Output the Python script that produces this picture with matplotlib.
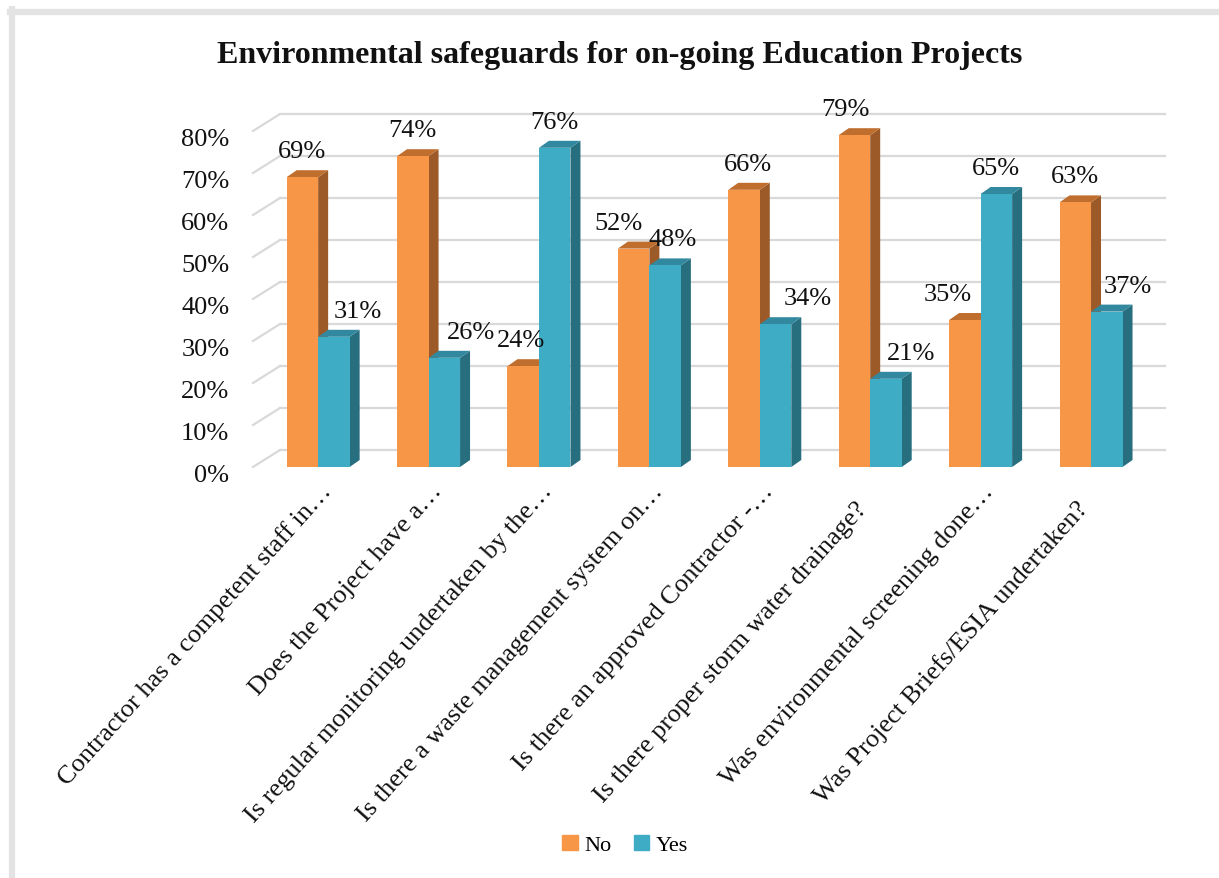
import matplotlib
matplotlib.use('Agg')
import matplotlib.pyplot as plt
import matplotlib.transforms as mtransforms
from matplotlib.patches import Polygon, Rectangle
from matplotlib.lines import Line2D
import numpy as np

# Dados do gráfico
categorias = [
    'Contractor has a competent staff in…',
    'Does the Project have a…',
    'Is regular monitoring undertaken by the…',
    'Is there a waste management system on…',
    'Is there an approved Contractor -…',
    'Is there proper storm water drainage?',
    'Was environmental screening done…',
    'Was Project Briefs/ESIA undertaken?',
]
valores_no = [69, 74, 24, 52, 66, 79, 35, 63]
valores_yes = [31, 26, 76, 48, 34, 21, 65, 37]
series = ['No', 'Yes']
ticks_y = [0, 10, 20, 30, 40, 50, 60, 70, 80]

# Ajustes de posição dos rótulos (pixels)
desloc_no = [0, 0, -2, -15, 4, -9, -17, 0]
desloc_yes = [24, 27, 0, 7, 32, 25, 0, 21]

# Cores (frente, lateral, topo)
cores = {
    'No': ('#F79646', '#9C5A28', '#BF6E2E'),
    'Yes': ('#3FACC6', '#276E7F', '#32899F'),
}

plt.rcParams['font.family'] = ['Liberation Serif', 'DejaVu Serif']

fig = plt.figure(figsize=(12.19, 8.79), dpi=100)
ax = fig.add_axes([253 / 1219, 1 - 468 / 879, 912 / 1219, 368 / 879])
ax.set_xlim(-0.59, 7.67)
ax.set_ylim(0, 368 / 4.2)

# profundidade 3D em unidades de dados
px_x = 912 / 8.26
px_y = 4.2
parede_dx, parede_dy = 27 / px_x, 17 / px_y
barra_dx, barra_dy = 10 / px_x, 7 / px_y
largura = 31.5 / px_x

# Grade: parede do fundo + diagonais do piso/lateral
cinza = '#D9D9D9'
for v in ticks_y:
    ax.plot([-0.59 + parede_dx, 7.67], [v + parede_dy] * 2, color=cinza,
            lw=1.6, zorder=0, clip_on=False)
    ax.plot([-0.59, -0.59 + parede_dx], [v, v + parede_dy], color=cinza,
            lw=1.6, zorder=0, clip_on=False)

x = list(range(len(categorias)))
z = 2
for i in x:
    for serie, vals, off, desl in [('No', valores_no, -largura / 2, desloc_no),
                                   ('Yes', valores_yes, largura / 2, desloc_yes)]:
        v = vals[i]
        xc = i + off
        xl, xr = xc - largura / 2, xc + largura / 2
        frente, lado, topo = cores[serie]
        ax.add_patch(Polygon([(xr, 0), (xr + barra_dx, barra_dy), (xr + barra_dx, v + barra_dy), (xr, v)],
                             closed=True, facecolor=lado, edgecolor='none', zorder=z))
        ax.add_patch(Polygon([(xl, v), (xl + barra_dx, v + barra_dy), (xr + barra_dx, v + barra_dy), (xr, v)],
                             closed=True, facecolor=topo, edgecolor='none', zorder=z))
        ax.bar(xc, v, width=largura, color=frente, zorder=z + 0.5)
        ax.annotate(f'{v}%', (xc, v), xytext=(desl[i] * 0.72, 15 * 0.72),
                    textcoords='offset points', ha='center', va='bottom',
                    fontsize=19, color='#111111', zorder=10, annotation_clip=False)
        z += 1

# Eixo Y
ax.set_yticks(ticks_y)
ax.set_yticklabels([f'{t}%' for t in ticks_y], fontsize=19, color='#111111')
ax.tick_params(axis='y', length=0, pad=17)
desloc = mtransforms.ScaledTranslation(0, -6 / 100, fig.dpi_scale_trans)
for lbl in ax.get_yticklabels():
    lbl.set_transform(lbl.get_transform() + desloc)
ax.set_xticks([])
for s in ax.spines.values():
    s.set_visible(False)
ax.patch.set_alpha(0)

# Rótulos das categorias (o "…" do Excel passa do ponto de ancoragem)
ang = 48
for i, cat in enumerate(categorias):
    recuo = 0 if cat.endswith('…') else 24
    ax.text(i + (14 - recuo * np.cos(np.radians(ang))) / px_x,
            (-24 - recuo * np.sin(np.radians(ang))) / px_y, cat,
            rotation=ang, rotation_mode='anchor',
            ha='right', va='baseline', fontsize=19, color='#111111', clip_on=False)

# Título
fig.text(0.508, 1 - 56 / 879, 'Environmental safeguards for on-going Education Projects',
         ha='center', va='center', fontsize=23, fontweight='bold', color='#111111')

# Legenda
handles = [Rectangle((0, 0), 1, 1, color=cores[s][0]) for s in series]
fig.legend(handles, series, loc='center', bbox_to_anchor=(625 / 1219, 1 - 846 / 879),
           ncol=2, frameon=False, fontsize=16, handlelength=0.7, handleheight=0.7,
           handletextpad=0.3, columnspacing=1.0)

# Moldura cinza
fig.add_artist(Line2D([12 / 1219, 12 / 1219], [0, 1 - 10 / 879], color='#E3E3E3', lw=4.5,
                      transform=fig.transFigure))
fig.add_artist(Line2D([10 / 1219, 1], [1 - 13 / 879, 1 - 13 / 879], color='#E3E3E3', lw=4.5,
                      transform=fig.transFigure))

fig.savefig('out.png', dpi=100)
